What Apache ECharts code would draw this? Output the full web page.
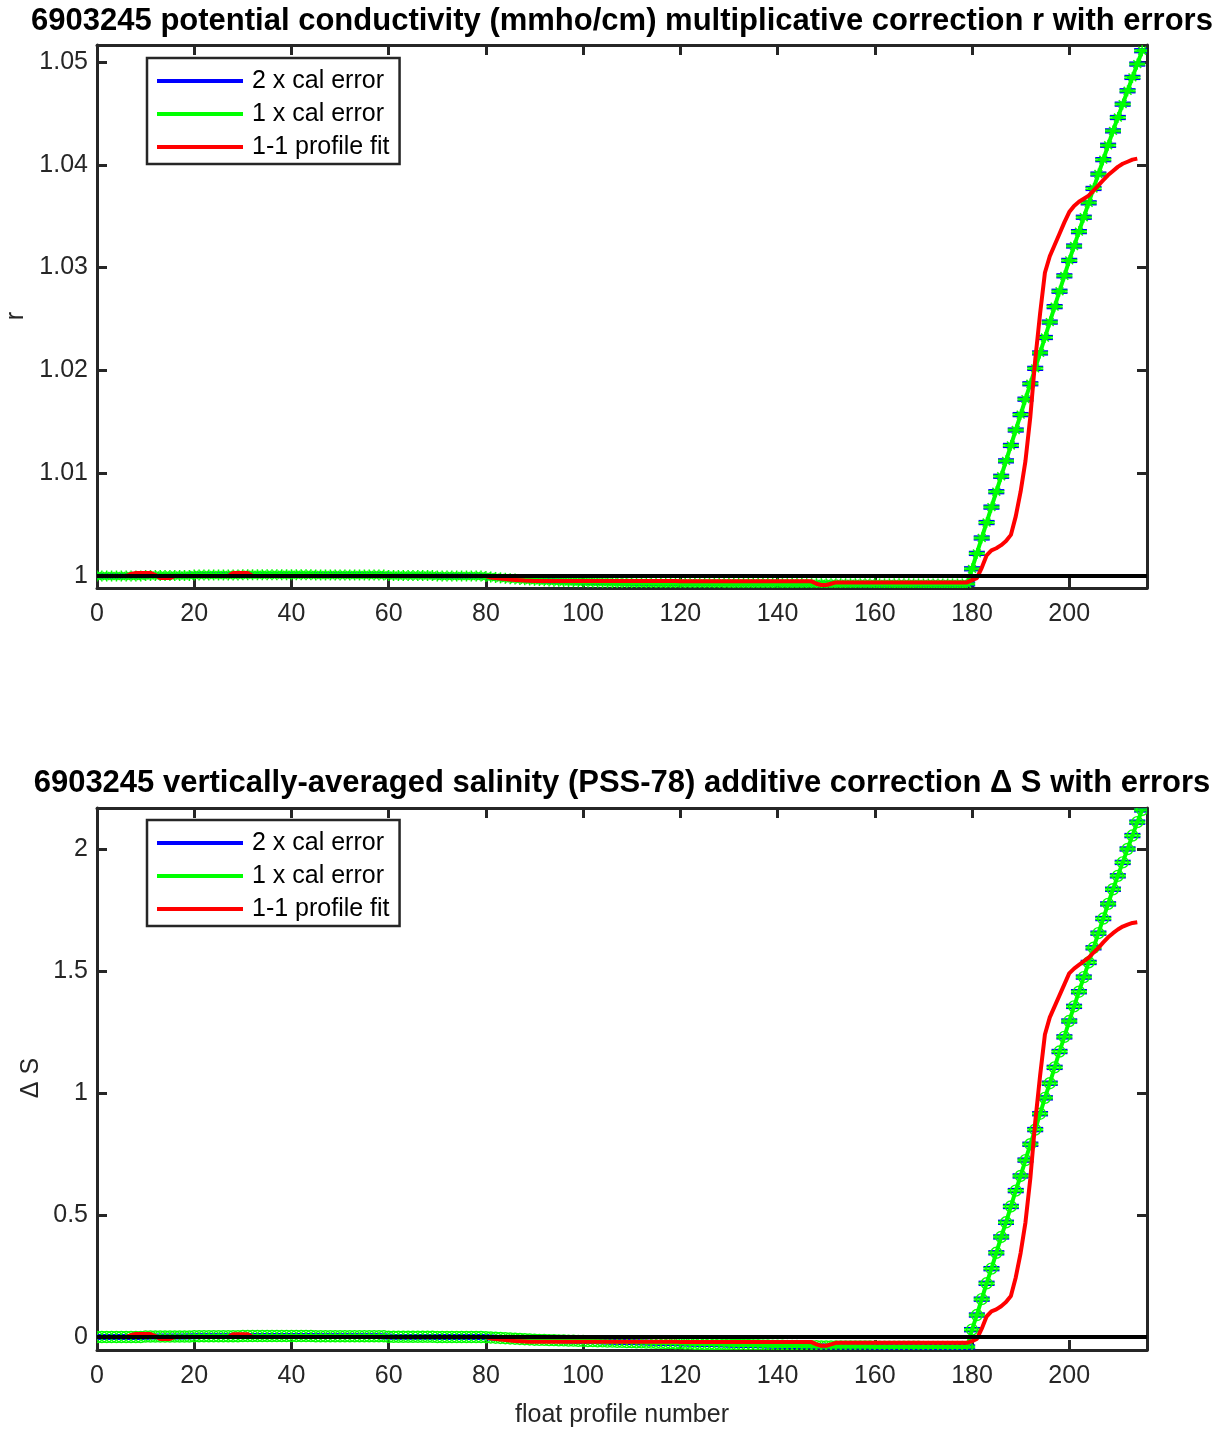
<!DOCTYPE html>
<html><head><meta charset="utf-8">
<script src="https://cdn.jsdelivr.net/npm/echarts@6/dist/echarts.min.js"></script>
<style>html,body{margin:0;padding:0;background:#fff}#chart{width:1226px;height:1433px}</style>
</head><body><div id="chart"></div>
<script>
const profiles = [
0,1,2,3,4,5,6,7,8,9,10,11,12,13,14,15,16,17,18,19,
20,21,22,23,24,25,26,27,28,29,30,31,32,33,34,35,36,37,38,39,
40,41,42,43,44,45,46,47,48,49,50,51,52,53,54,55,56,57,58,59,
60,61,62,63,64,65,66,67,68,69,70,71,72,73,74,75,76,77,78,79,
80,81,82,83,84,85,86,87,88,89,90,91,92,93,94,95,96,97,98,99,
100,101,102,103,104,105,106,107,108,109,110,111,112,113,114,115,116,117,118,119,
120,121,122,123,124,125,126,127,128,129,130,131,132,133,134,135,136,137,138,139,
140,141,142,143,144,145,146,147,148,149,150,151,152,153,154,155,156,157,158,159,
160,161,162,163,164,165,166,167,168,169,170,171,172,173,174,175,176,177,178,179,
180,181,182,183,184,185,186,187,188,189,190,191,192,193,194,195,196,197,198,199,
200,201,202,203,204,205,206,207,208,209,210,211,212,213,214,215];

// r : 1 x cal (centre of error bars)
const calR = [
1.0000,1.0000,1.0000,1.0000,1.0000,1.0000,1.0000,1.0000,1.0000,1.0000,
1.00005,1.00005,1.00005,1.00005,1.00005,1.00005,1.00005,1.00005,1.00005,1.00005,
1.0001,1.0001,1.0001,1.0001,1.0001,1.0001,1.0001,1.0001,1.0001,1.0001,
1.00012,1.00012,1.00012,1.00012,1.00012,1.00012,1.00012,1.00012,1.00012,1.00012,
1.00012,1.00012,1.00012,1.00012,1.00012,1.0001,1.0001,1.0001,1.0001,1.0001,
1.0001,1.0001,1.0001,1.0001,1.0001,1.0001,1.0001,1.0001,1.0001,1.0001,
1.00005,1.00005,1.00005,1.00005,1.00005,1.00005,1.00005,1.00005,1.00005,1.00005,
1.0000,1.0000,1.0000,1.0000,1.0000,1.0000,1.0000,1.0000,1.0000,1.0000,
0.99995,0.9999,0.99986,0.99982,0.99978,0.99974,0.9997,0.99967,0.99964,0.99961,
0.99958,0.99956,0.99954,0.99952,0.9995,0.99948,0.99947,0.99946,0.99945,0.99944,
0.99943,0.99942,0.99941,0.9994,0.99939,0.99938,0.99937,0.99936,0.99935,0.99934,
0.99933,0.99933,0.99932,0.99932,0.99931,0.99931,0.9993,0.9993,0.99929,0.99929,
0.99928,0.99928,0.99928,0.99928,0.99928,0.99928,0.99928,0.99928,0.99928,0.99928,
0.99927,0.99927,0.99927,0.99927,0.99927,0.99927,0.99927,0.99927,0.99927,0.99927,
0.99926,0.99926,0.99926,0.99926,0.99926,0.99926,0.99926,0.99926,0.99926,0.99926,
0.99925,0.99925,0.99925,0.99925,0.99925,0.99925,0.99925,0.99925,0.99925,0.99925,
0.99924,0.99924,0.99924,0.99924,0.99924,0.99924,0.99924,0.99924,0.99924,0.99924,
0.99923,0.99923,0.99923,0.99923,0.99923,0.99923,0.99923,0.99923,0.99923,0.99923,
1.0007,1.0022,1.0037,1.0052,1.0067,1.0082,1.0097,1.0112,1.0127,1.0142,
1.0157,1.0172,1.0187,1.0202,1.0217,1.0232,1.0247,1.0262,1.0277,1.0292,
1.0307,1.0321,1.0335,1.0349,1.0363,1.0377,1.0391,1.0405,1.0419,1.0433,
1.0446,1.0459,1.0472,1.0485,1.0498,1.0511];

// r : 1-1 profile fit
const fitR = [
1.0000,1.0000,1.0000,1.0000,1.0000,1.0000,1.0000,1.0002,1.0003,1.0003,
1.0003,1.0003,1.0001,0.9998,0.9998,0.9998,1.0000,1.0000,1.0000,1.0000,
1.0000,1.0000,1.0000,1.0000,1.0000,1.0000,1.0000,1.0000,1.0003,1.0003,
1.0003,1.0003,1.0000,1.0000,1.0000,1.0000,1.0000,1.0000,1.0000,1.0000,
1.0000,1.0000,1.0000,1.0000,1.0000,1.0000,1.0000,1.0000,1.0000,1.0000,
1.0000,1.0000,1.0000,1.0000,1.0000,1.0000,1.0000,1.0000,1.0000,1.0000,
1.0000,1.0000,1.0000,1.0000,1.0000,1.0000,1.0000,1.0000,1.0000,1.0000,
1.0000,1.0000,1.0000,1.0000,1.0000,1.0000,1.0000,1.0000,1.0000,1.0000,
1.0000,0.99985,0.9998,0.99975,0.9997,0.99965,0.9996,0.99958,0.99956,0.99955,
0.99952,0.99952,0.99952,0.99952,0.99952,0.99952,0.99952,0.99952,0.99952,0.99952,
0.99952,0.99952,0.99952,0.99952,0.99952,0.99952,0.99952,0.99952,0.99952,0.99952,
0.99952,0.99952,0.99952,0.99952,0.99952,0.99952,0.99952,0.99952,0.99952,0.99952,
0.99948,0.99948,0.99948,0.99948,0.99948,0.99948,0.99948,0.99948,0.99948,0.99948,
0.99948,0.99948,0.99948,0.99948,0.99948,0.99948,0.99948,0.99948,0.99948,0.99948,
0.99948,0.99948,0.99948,0.99948,0.99948,0.99948,0.99948,0.99948,0.99925,0.99912,
0.99912,0.99925,0.99938,0.99938,0.99938,0.99938,0.99938,0.99938,0.99938,0.99938,
0.99938,0.99938,0.99938,0.99938,0.99938,0.99938,0.99938,0.99938,0.99938,0.99938,
0.99938,0.99938,0.99938,0.99938,0.99938,0.99938,0.99938,0.99938,0.99938,0.99938,
0.9996,0.9998,1.0008,1.0020,1.0025,1.0027,1.0030,1.0034,1.0040,1.0058,
1.0082,1.0112,1.0155,1.0210,1.0255,1.0295,1.0311,1.0322,1.0333,1.0344,
1.0354,1.0360,1.0364,1.0367,1.0370,1.0375,1.0380,1.0385,1.0390,1.0394,
1.0398,1.0401,1.0403,1.0405,1.0406,null];

// Delta S : 1 x cal (centre of error bars)
const calS = [
0.000,0.000,0.000,0.000,0.000,0.000,0.000,0.000,0.000,0.000,
0.002,0.002,0.002,0.002,0.002,0.002,0.002,0.002,0.002,0.002,
0.003,0.003,0.003,0.003,0.003,0.003,0.003,0.003,0.003,0.003,
0.004,0.004,0.004,0.004,0.004,0.004,0.004,0.004,0.004,0.004,
0.004,0.004,0.004,0.004,0.004,0.003,0.003,0.003,0.003,0.003,
0.003,0.003,0.003,0.003,0.003,0.003,0.003,0.003,0.003,0.003,
0.001,0.001,0.001,0.001,0.001,0.001,0.001,0.001,0.001,0.001,
0.000,0.000,0.000,0.000,0.000,0.000,0.000,0.000,0.000,0.000,
-0.001,-0.002,-0.003,-0.004,-0.005,-0.006,-0.007,-0.008,-0.009,-0.010,
-0.011,-0.012,-0.012,-0.013,-0.013,-0.014,-0.014,-0.015,-0.015,-0.016,
-0.016,-0.017,-0.017,-0.018,-0.018,-0.019,-0.019,-0.020,-0.020,-0.021,
-0.021,-0.022,-0.022,-0.023,-0.023,-0.024,-0.024,-0.025,-0.025,-0.026,
-0.026,-0.027,-0.027,-0.028,-0.028,-0.029,-0.029,-0.030,-0.030,-0.031,
-0.031,-0.032,-0.032,-0.033,-0.033,-0.034,-0.034,-0.035,-0.035,-0.036,
-0.036,-0.036,-0.037,-0.037,-0.037,-0.038,-0.038,-0.038,-0.038,-0.039,
-0.039,-0.039,-0.039,-0.039,-0.039,-0.039,-0.039,-0.039,-0.039,-0.039,
-0.040,-0.040,-0.040,-0.040,-0.040,-0.040,-0.040,-0.040,-0.040,-0.040,
-0.041,-0.041,-0.041,-0.041,-0.041,-0.041,-0.041,-0.041,-0.041,-0.041,
0.030,0.090,0.155,0.220,0.280,0.345,0.410,0.470,0.535,0.600,
0.660,0.725,0.790,0.850,0.915,0.980,1.040,1.105,1.170,1.230,
1.295,1.355,1.415,1.475,1.535,1.595,1.655,1.715,1.775,1.835,
1.890,1.945,2.000,2.055,2.110,2.160];

// Delta S : 1-1 profile fit
const fitS = [
0.000,0.000,0.000,0.000,0.000,0.000,0.000,0.008,0.012,0.012,
0.012,0.012,0.004,-0.008,-0.008,-0.008,0.000,0.000,0.000,0.000,
0.000,0.000,0.000,0.000,0.000,0.000,0.000,0.000,0.011,0.011,
0.011,0.011,0.000,0.000,0.000,0.000,0.000,0.000,0.000,0.000,
0.000,0.000,0.000,0.000,0.000,0.000,0.000,0.000,0.000,0.000,
0.000,0.000,0.000,0.000,0.000,0.000,0.000,0.000,0.000,0.000,
0.000,0.000,0.000,0.000,0.000,0.000,0.000,0.000,0.000,0.000,
0.000,0.000,0.000,0.000,0.000,0.000,0.000,0.000,0.000,0.000,
0.000,-0.006,-0.008,-0.010,-0.012,-0.014,-0.016,-0.017,-0.018,-0.019,
-0.019,-0.019,-0.019,-0.019,-0.019,-0.019,-0.019,-0.019,-0.019,-0.019,
-0.019,-0.019,-0.019,-0.019,-0.019,-0.019,-0.019,-0.019,-0.019,-0.019,
-0.019,-0.019,-0.019,-0.019,-0.019,-0.019,-0.019,-0.019,-0.019,-0.019,
-0.021,-0.021,-0.021,-0.021,-0.021,-0.021,-0.021,-0.021,-0.021,-0.021,
-0.021,-0.021,-0.021,-0.021,-0.021,-0.021,-0.021,-0.021,-0.021,-0.021,
-0.021,-0.021,-0.021,-0.021,-0.021,-0.021,-0.021,-0.021,-0.030,-0.036,
-0.036,-0.030,-0.024,-0.024,-0.024,-0.024,-0.024,-0.024,-0.024,-0.024,
-0.024,-0.024,-0.024,-0.024,-0.024,-0.024,-0.024,-0.024,-0.024,-0.024,
-0.024,-0.024,-0.024,-0.024,-0.024,-0.024,-0.024,-0.024,-0.024,-0.024,
-0.017,-0.008,0.034,0.084,0.105,0.113,0.126,0.143,0.168,0.244,
0.344,0.470,0.650,0.880,1.070,1.240,1.310,1.355,1.400,1.445,
1.490,1.510,1.525,1.540,1.555,1.575,1.595,1.617,1.638,1.655,
1.670,1.682,1.690,1.697,1.700,null];

const calErrR = 0.00008;   // 1 x cal error for r
const calErrS = 0.0035;    // 1 x cal error for Delta S
const refLineX = [0, 216];
const xTicks = [0,20,40,60,80,100,120,140,160,180,200];
const rTicks = [1,1.01,1.02,1.03,1.04,1.05];
const sTicks = [0,0.5,1,1.5,2];
const legendNames = ['2 x cal error','1 x cal error','1-1 profile fit'];
const titles = [
  '6903245 potential conductivity (mmho/cm) multiplicative correction r with errors',
  '6903245 vertically-averaged salinity (PSS-78) additive correction \u0394 S with errors'
];
const yNames = ['r', '\u0394 S'];
const xName = 'float profile number';

const FONT = '"Liberation Sans", Arial, Helvetica, sans-serif';
const AX = '#262626';
const BLUE = '#0000ff', GREEN = '#00ff00', RED = '#ff0000';

function errRender(color, mult, marker, lw) {
  return function (params, api) {
    const x = api.value(0), y = api.value(1), e = api.value(2) * mult;
    const c = api.coord([x, y]);
    const hi = api.coord([x, y + e])[1];
    const lo = api.coord([x, y - e])[1];
    const cw = 8;
    const st = () => ({ stroke: color, lineWidth: lw, fill: null });
    const ch = [
      { type: 'line', shape: { x1: c[0], y1: hi, x2: c[0], y2: lo }, style: st() },
      { type: 'line', shape: { x1: c[0] - cw, y1: hi, x2: c[0] + cw, y2: hi }, style: st() },
      { type: 'line', shape: { x1: c[0] - cw, y1: lo, x2: c[0] + cw, y2: lo }, style: st() }
    ];
    if (marker === 'star') {
      const r = 5.5, d = 3.9;
      const s2 = () => ({ stroke: color, lineWidth: 1.5, fill: null });
      ch.push({ type: 'line', shape: { x1: c[0], y1: c[1] - r, x2: c[0], y2: c[1] + r }, style: s2() });
      ch.push({ type: 'line', shape: { x1: c[0] - r, y1: c[1], x2: c[0] + r, y2: c[1] }, style: s2() });
      ch.push({ type: 'line', shape: { x1: c[0] - d, y1: c[1] - d, x2: c[0] + d, y2: c[1] + d }, style: s2() });
      ch.push({ type: 'line', shape: { x1: c[0] - d, y1: c[1] + d, x2: c[0] + d, y2: c[1] - d }, style: s2() });
    } else if (marker === 'circle') {
      ch.push({ type: 'circle', shape: { cx: c[0], cy: c[1], r: 5.5 }, style: { stroke: color, lineWidth: 1.4, fill: null } });
    }
    return { type: 'group', children: ch };
  };
}

function xAx(grid, pos) {
  return {
    type: 'value', gridIndex: grid, position: pos, min: 0, max: 216,
    axisLine: { show: true, onZero: false, lineStyle: { color: AX, width: 3 } },
    axisTick: { show: true, inside: true, length: 10, customValues: xTicks, lineStyle: { color: AX, width: 3 } },
    axisLabel: { show: pos === 'bottom', customValues: xTicks, margin: 14, fontSize: 25, color: AX, fontFamily: FONT },
    splitLine: { show: false }
  };
}
function yAx(grid, pos, min, max, ticks) {
  return {
    type: 'value', gridIndex: grid, position: pos, min: min, max: max,
    axisLine: { show: true, onZero: false, lineStyle: { color: AX, width: 3 } },
    axisTick: { show: true, inside: true, length: 10, customValues: ticks, lineStyle: { color: AX, width: 3 } },
    axisLabel: { show: pos === 'left', customValues: ticks, margin: 9, fontSize: 25, color: AX, fontFamily: FONT,
      formatter: v => String(+(+v).toFixed(3)) },
    splitLine: { show: false }
  };
}

function chartSeries(xi, yi, cal, fit, err, marker, refY) {
  const errData = profiles.map((p, i) => [p, cal[i], err]);
  return [
    { name: legendNames[0], type: 'custom', xAxisIndex: xi, yAxisIndex: yi, clip: true,
      itemStyle: { color: BLUE }, renderItem: errRender(BLUE, 2, null, 2), encode: { x: 0, y: 1 }, data: errData, silent: true },
    { name: legendNames[1], type: 'line', xAxisIndex: xi, yAxisIndex: yi, showSymbol: false, symbol: 'none',
      itemStyle: { color: GREEN }, lineStyle: { color: GREEN, width: 4 }, data: profiles.map((p, i) => [p, cal[i]]), silent: true },
    { name: legendNames[1], type: 'custom', xAxisIndex: xi, yAxisIndex: yi, clip: true,
      itemStyle: { color: GREEN }, renderItem: errRender(GREEN, 1, marker, 1.5), encode: { x: 0, y: 1 }, data: errData, silent: true },
    { name: legendNames[2], type: 'line', xAxisIndex: xi, yAxisIndex: yi, showSymbol: false, symbol: 'none',
      itemStyle: { color: RED }, lineStyle: { color: RED, width: 4 }, data: profiles.map((p, i) => [p, fit[i]]), silent: true },
    { name: 'ref', type: 'line', xAxisIndex: xi, yAxisIndex: yi, showSymbol: false, symbol: 'none',
      lineStyle: { color: '#000', width: 4 }, data: refLineX.map(x => [x, refY]), silent: true }
  ];
}

function legendFor(top) {
  return {
    orient: 'vertical', left: 147, top: top, padding: [9, 10, 3, 10], itemGap: 5,
    itemWidth: 86, itemHeight: 4, backgroundColor: '#fff', borderColor: AX, borderWidth: 2.5, borderRadius: 0,
    selectedMode: false,
    textStyle: { fontSize: 25, lineHeight: 28, color: '#000', fontFamily: FONT, padding: [0, 0, 0, 4] },
    data: legendNames.map(n => ({ name: n, icon: 'rect' }))
  };
}

const chart = echarts.init(document.getElementById('chart'), null, { renderer: 'canvas' });
chart.setOption({
  animation: false,
  backgroundColor: '#fff',
  grid: [
    { left: 97, top: 45, width: 1050, height: 543 },
    { left: 97, top: 808, width: 1050, height: 542 }
  ],
  xAxis: [xAx(0, 'bottom'), xAx(0, 'top'), xAx(1, 'bottom'), xAx(1, 'top')],
  yAxis: [
    yAx(0, 'left', 0.998833, 1.051654, rTicks), yAx(0, 'right', 0.998833, 1.051654, rTicks),
    yAx(1, 'left', -0.0533, 2.168, sTicks), yAx(1, 'right', -0.0533, 2.168, sTicks)
  ],
  legend: [legendFor(58), legendFor(820)],
  series: [].concat(
    chartSeries(0, 0, calR, fitR, calErrR, 'star', 1),
    chartSeries(2, 2, calS, fitS, calErrS, 'circle', 0)
  ),
  graphic: [
    { type: 'text', x: 622, y: 21, style: { text: titles[0], align: 'center', verticalAlign: 'middle',
      fontSize: 31, fontWeight: 'bold', fontFamily: FONT, fill: '#000' } },
    { type: 'text', x: 622, y: 783, style: { text: titles[1], align: 'center', verticalAlign: 'middle',
      fontSize: 31, fontWeight: 'bold', fontFamily: FONT, fill: '#000' } },
    { type: 'text', x: 16, y: 316, rotation: Math.PI / 2, style: { text: yNames[0], align: 'center', verticalAlign: 'middle',
      fontSize: 25, fontFamily: FONT, fill: AX } },
    { type: 'text', x: 31, y: 1078, rotation: Math.PI / 2, style: { text: yNames[1], align: 'center', verticalAlign: 'middle',
      fontSize: 25, fontFamily: FONT, fill: AX } },
    { type: 'text', x: 622, y: 1415, style: { text: xName, align: 'center', verticalAlign: 'middle',
      fontSize: 25, fontFamily: FONT, fill: AX } }
  ]
});
</script>
</body></html>
